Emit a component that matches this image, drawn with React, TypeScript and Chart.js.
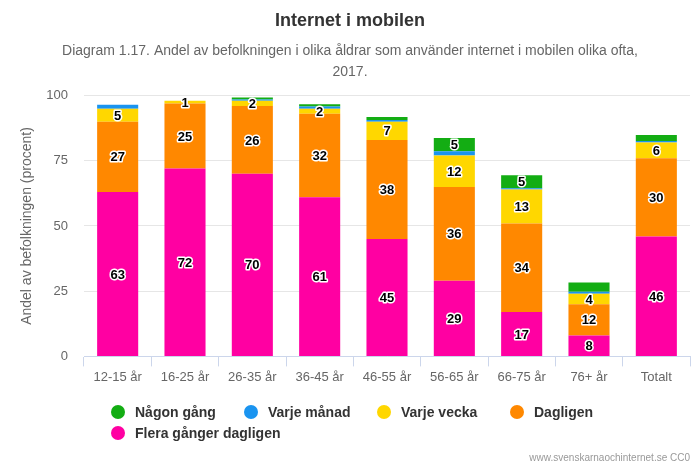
import React, { useEffect, useRef } from "react";
import { Chart, registerables } from "chart.js";

Chart.register(...registerables);

const categories = ["12-15 år", "16-25 år", "26-35 år", "36-45 år", "46-55 år", "56-65 år", "66-75 år", "76+ år", "Totalt"];
const floraGangerDagligen = [63, 72, 70, 61, 45, 29, 17, 8, 46];
const dagligen = [27, 25, 26, 32, 38, 36, 34, 12, 30];
const varjeVecka = [5, 1, 2, 2, 7, 12, 13, 4, 6];
const varjeManad = [1.5, 0, 0.5, 0.8, 0.6, 1.7, 0.5, 0.8, 0.6];
const nagonGang = [0, 0, 0.8, 0.9, 1.2, 5, 5, 3.5, 2.3];
const yTicks = [0, 25, 50, 75, 100];

const FONT = "'Liberation Sans', Arial, Helvetica, sans-serif";

const labelPlugin = {
  id: "barLabels",
  afterDatasetsDraw(chart: any) {
    const ctx = chart.ctx;
    ctx.save();
    ctx.font = `bold 13px ${FONT}`;
    ctx.textAlign = "center";
    ctx.textBaseline = "middle";
    ctx.lineJoin = "round";
    chart.data.datasets.forEach((ds: any, di: number) => {
      const meta = chart.getDatasetMeta(di);
      if (meta.hidden) return;
      meta.data.forEach((bar: any, i: number) => {
        const v = ds.data[i];
        if (!v) return;
        if (ds.labelMin !== undefined && v < ds.labelMin) return;
        const y = (bar.y + bar.base) / 2;
        const txt = String(Math.round(v));
        ctx.strokeStyle = "#ffffff";
        ctx.lineWidth = 3;
        ctx.strokeText(txt, bar.x, y + 1);
        ctx.fillStyle = "#000000";
        ctx.fillText(txt, bar.x, y + 1);
      });
    });
    ctx.restore();
  },
};

const legendPlugin = {
  id: "customLegend",
  afterDraw(chart: any) {
    const ctx = chart.ctx;
    const items = [...chart.data.datasets].reverse();
    ctx.save();
    ctx.font = `bold 14px ${FONT}`;
    ctx.textBaseline = "middle";
    ctx.textAlign = "left";
    items.forEach((ds: any, k: number) => {
      const row = Math.floor(k / 4);
      const col = k % 4;
      const cx = 118 + col * 133;
      const cy = 412 + row * 21;
      ctx.beginPath();
      ctx.arc(cx, cy, 7, 0, Math.PI * 2);
      ctx.fillStyle = ds.backgroundColor;
      ctx.fill();
      ctx.fillStyle = "#333333";
      ctx.fillText(ds.label, cx + 17, cy + 1);
    });
    ctx.font = `10px ${FONT}`;
    ctx.fillStyle = "#999999";
    ctx.textAlign = "right";
    ctx.fillText("www.svenskarnaochinternet.se CC0", 690, 458);
    ctx.restore();
  },
};

export default function App() {
  const ref = useRef<HTMLCanvasElement>(null);
  useEffect(() => {
    document.body.style.margin = "0";
    const chart = new Chart(ref.current!, {
      type: "bar",
      data: {
        labels: categories,
        datasets: [
          { label: "Flera gånger dagligen", data: floraGangerDagligen, backgroundColor: "#ff00a2" },
          { label: "Dagligen", data: dagligen, backgroundColor: "#ff8800" },
          { label: "Varje vecka", data: varjeVecka, backgroundColor: "#ffd700" },
          { label: "Varje månad", data: varjeManad, backgroundColor: "#1a94f0", labelMin: 100 } as any,
          { label: "Någon gång", data: nagonGang, backgroundColor: "#13ad13", labelMin: 4.5 } as any,
        ],
      },
      options: {
        animation: false,
        responsive: false,
        maintainAspectRatio: false,
        layout: { padding: { left: 10, right: 10, top: 0, bottom: 79 } },
        datasets: { bar: { barPercentage: 1, categoryPercentage: 0.61, borderWidth: 0 } } as any,
        plugins: {
          legend: { display: false },
          tooltip: { enabled: false },
          title: {
            display: true,
            text: "Internet i mobilen",
            color: "#333333",
            font: { family: FONT, size: 18, weight: "bold" },
            padding: { top: 10, bottom: 4 },
          },
          subtitle: {
            display: true,
            text: ["Diagram 1.17. Andel av befolkningen i olika åldrar som använder internet i mobilen olika ofta,", "2017."],
            color: "#666666",
            font: { family: FONT, size: 14, lineHeight: 1.5 },
            padding: { top: 5, bottom: 13 },
          },
        },
        scales: {
          x: {
            stacked: true,
            grid: {
              display: true,
              offset: true,
              drawOnChartArea: false,
              drawTicks: true,
              tickLength: 10,
              color: "#ccd6eb",
            },
            border: { display: true, color: "#ccd6eb" },
            ticks: { color: "#666666", font: { family: FONT, size: 13 }, padding: 3, maxRotation: 0 },
          },
          y: {
            stacked: true,
            min: 0,
            max: 100,
            afterBuildTicks(scale: any) {
              scale.ticks = yTicks.map((v) => ({ value: v }));
            },
            afterFit(scale: any) {
              scale.width = 74;
            },
            grid: { color: "#e6e6e6", drawTicks: false },
            border: { display: false },
            ticks: { color: "#666666", font: { family: FONT, size: 13 }, padding: 16 },
            title: {
              display: true,
              text: "Andel av befolkningen (procent)",
              color: "#666666",
              font: { family: FONT, size: 14 },
              padding: { top: 9, bottom: 0 },
            },
          },
        },
      },
      plugins: [labelPlugin, legendPlugin],
    });
    return () => chart.destroy();
  }, []);
  return <canvas ref={ref} width={700} height={467} style={{ display: "block" }} />;
}
